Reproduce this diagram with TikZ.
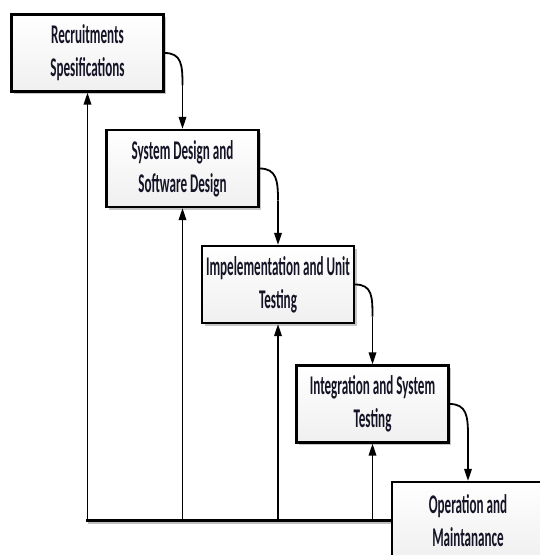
\documentclass[tikz,border=0pt]{standalone}
\usepackage{fontspec}
\newfontfamily\boxfont[FakeStretch=0.485]{Carlito}
\usetikzlibrary{shadows,calc,arrows.meta}
\definecolor{txt}{RGB}{20,20,38}
\tikzset{
  stagebox/.style={draw=black, line width=2.2pt, minimum width=152pt, minimum height=77pt,
    top color=white, bottom color=gray!12, align=center, inner sep=0pt,
    font=\boxfont\bfseries\fontsize{27}{33}\selectfont, text=txt,
    drop shadow={shadow xshift=2.5pt, shadow yshift=-2.5pt, fill=gray!45, opacity=1}},
  arr/.style={line width=1.8pt, -{Triangle[length=12pt,width=7.5pt]}},
  baseline/.style={line width=2.4pt}
}
\begin{document}
\begin{tikzpicture}[x=1pt,y=-1pt]
\useasboundingbox (0,0) rectangle (540,555);
\clip (0,0) rectangle (540,555);
\fill[white] (0,0) rectangle (540,555);
\node[stagebox] (b1) at (87.5,53) {Recruitments\\Spesifications};
\node[stagebox] (b2) at (182.5,168.5) {System Design and\\Software Design};
\node[stagebox] (b3) at (278,284.5) {Impelementation and Unit\\Testing};
\node[stagebox] (b4) at (372.5,404) {Integration and System\\Testing};
\node[stagebox] (b5) at (468,520.5) {Operation and\\Maintanance};
% bottom feedback line
\draw[line width=2.4pt, gray!50] ([yshift=-2pt]b1.south |- b5.west) -- ([yshift=-2pt]b5.west);
\draw[baseline] ([xshift=-1.2pt]b1.south |- b5.west) -- (b5.west);
\foreach \n in {b1,b2,b3,b4}{
  \draw[arr] (\n.south |- b5.west) -- (\n.south);
}
% curved forward connectors
\foreach \a/\b in {b1/b2,b2/b3,b3/b4,b4/b5}{
  \coordinate (c\a) at ($(\a.east -| \b.north)+(0,32)$);
  \draw[line width=1.8pt] (\a.east) .. controls +(17,0) and +(0,-20) .. (c\a);
  \draw[arr] (c\a) -- (\b.north);
}
\end{tikzpicture}
\end{document}
